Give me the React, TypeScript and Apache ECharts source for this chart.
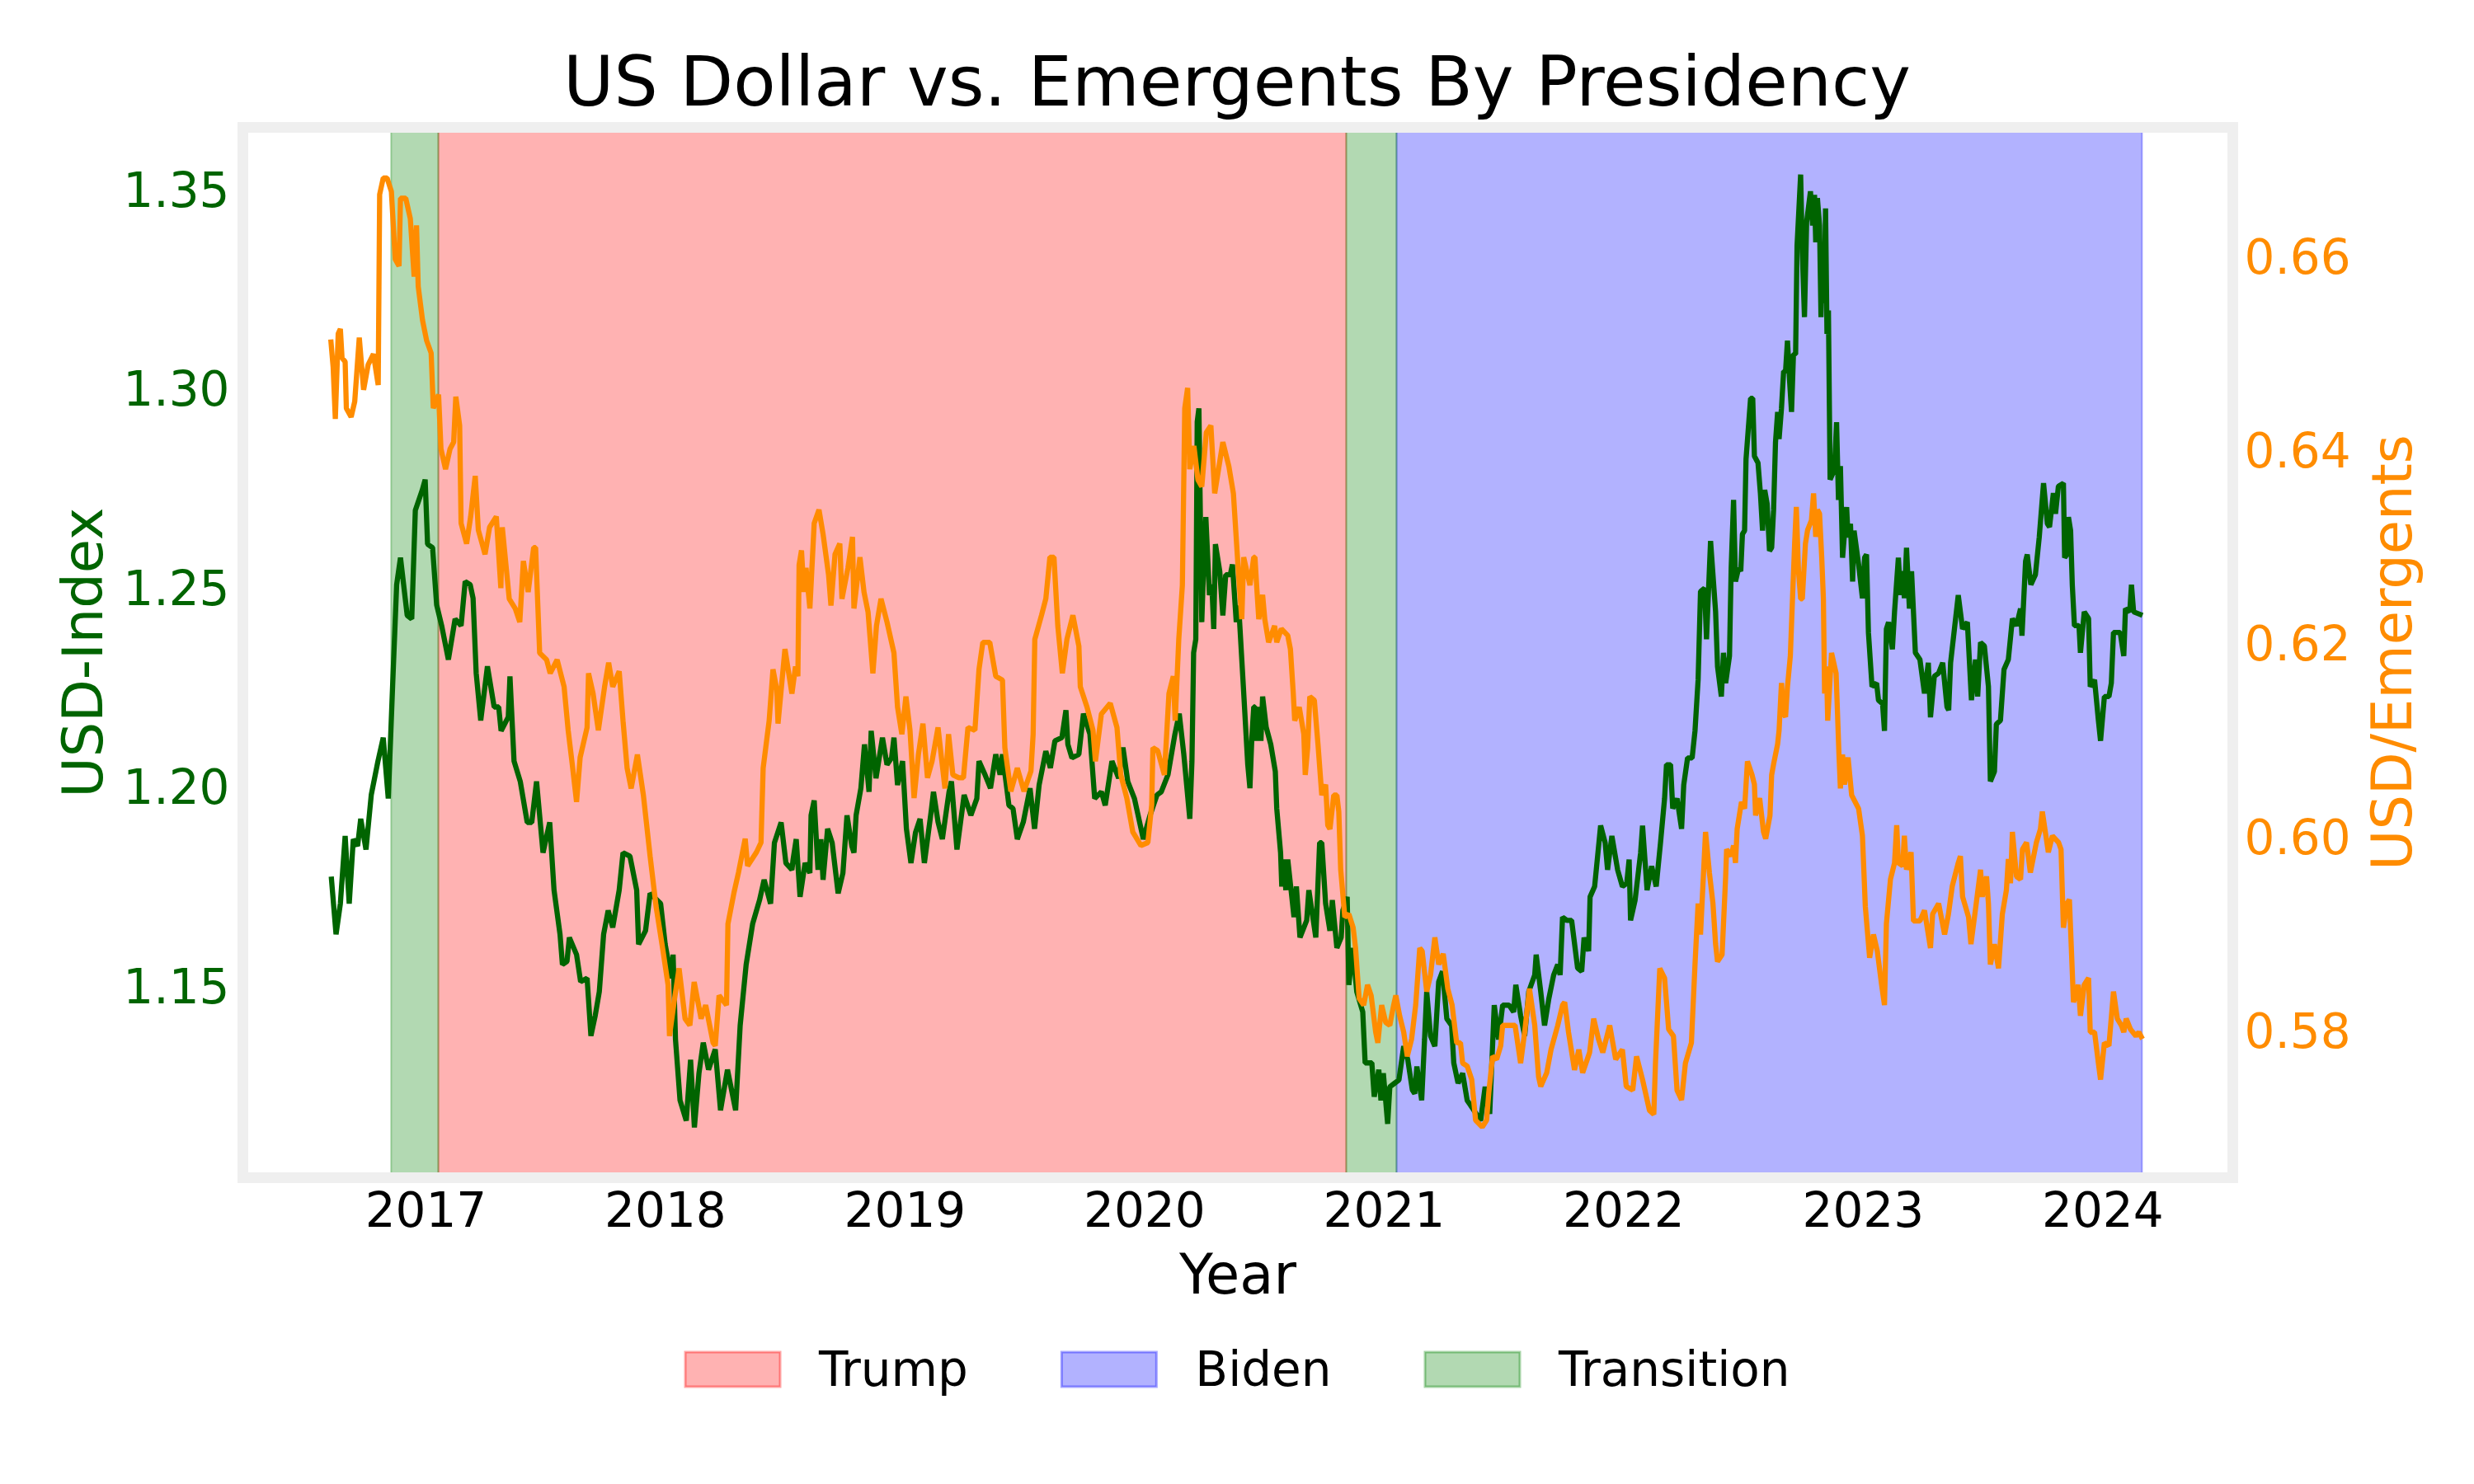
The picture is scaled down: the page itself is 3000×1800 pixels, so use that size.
import { useEffect, useRef } from "react";
import * as echarts from "echarts";

// axis ticks
const yearTicks = [2017, 2018, 2019, 2020, 2021, 2022, 2023, 2024];
const usdTicks = [1.15, 1.2, 1.25, 1.3, 1.35];
const emergentTicks = [0.58, 0.6, 0.62, 0.64, 0.66];

// presidencies (decimal years)
const trumpTerm = [[2017.052, 2020.842]];
const bidenTerm = [[2021.052, 2024.164]];
const transitions = [[2016.855, 2017.052], [2020.842, 2021.052]];

// [decimal year, USD index]
const usdIndex = [
    [2016.605, 1.1776], [2016.625, 1.1631], [2016.643, 1.1708], [2016.663, 1.1878], [2016.680, 1.1708], [2016.697, 1.1870],
    [2016.715, 1.1853], [2016.728, 1.1921], [2016.750, 1.1844], [2016.772, 1.1981], [2016.800, 1.2066], [2016.822, 1.2125],
    [2016.843, 1.1972], [2016.861, 1.2253], [2016.878, 1.2509], [2016.894, 1.2577], [2016.922, 1.2432], [2016.941, 1.2423],
    [2016.956, 1.2696], [2016.985, 1.2747], [2016.997, 1.2773], [2017.007, 1.2611], [2017.028, 1.2602], [2017.045, 1.2458],
    [2017.066, 1.2406], [2017.094, 1.2321], [2017.122, 1.2423], [2017.147, 1.2406], [2017.164, 1.2517], [2017.185, 1.2509],
    [2017.197, 1.2475], [2017.210, 1.2287], [2017.229, 1.2168], [2017.257, 1.2304], [2017.285, 1.2202], [2017.304, 1.2202],
    [2017.314, 1.2142], [2017.344, 1.2177], [2017.351, 1.2279], [2017.368, 1.2066], [2017.394, 1.2015], [2017.423, 1.1912],
    [2017.442, 1.1912], [2017.462, 1.2015], [2017.489, 1.1836], [2017.517, 1.1912], [2017.535, 1.1742], [2017.560, 1.1631],
    [2017.570, 1.1555], [2017.589, 1.1563], [2017.599, 1.1623], [2017.629, 1.1580], [2017.646, 1.1512], [2017.673, 1.1521],
    [2017.689, 1.1376], [2017.707, 1.1427], [2017.724, 1.1487], [2017.742, 1.1631], [2017.761, 1.1691], [2017.780, 1.1648],
    [2017.807, 1.1742], [2017.823, 1.1836], [2017.852, 1.1827], [2017.880, 1.1742], [2017.888, 1.1606], [2017.917, 1.1640],
    [2017.936, 1.1734], [2017.980, 1.1708], [2017.999, 1.1606], [2018.024, 1.1521], [2018.032, 1.1580], [2018.042, 1.1367],
    [2018.061, 1.1214], [2018.087, 1.1163], [2018.105, 1.1316], [2018.121, 1.1146], [2018.140, 1.1282], [2018.158, 1.1359],
    [2018.180, 1.1291], [2018.208, 1.1342], [2018.230, 1.1189], [2018.259, 1.1291], [2018.293, 1.1189], [2018.312, 1.1402],
    [2018.337, 1.1555], [2018.364, 1.1657], [2018.393, 1.1717], [2018.412, 1.1768], [2018.439, 1.1708], [2018.455, 1.1861],
    [2018.483, 1.1912], [2018.503, 1.1810], [2018.528, 1.1793], [2018.533, 1.1819], [2018.546, 1.1870], [2018.562, 1.1725],
    [2018.583, 1.1810], [2018.603, 1.1785], [2018.608, 1.1930], [2018.621, 1.1967], [2018.637, 1.1793], [2018.649, 1.1870],
    [2018.658, 1.1768], [2018.677, 1.1896], [2018.696, 1.1861], [2018.721, 1.1734], [2018.741, 1.1785], [2018.758, 1.1930],
    [2018.778, 1.1853], [2018.787, 1.1836], [2018.796, 1.1930], [2018.816, 1.1998], [2018.831, 1.2108], [2018.850, 1.1989],
    [2018.859, 1.2142], [2018.879, 1.2023], [2018.906, 1.2125], [2018.925, 1.2057], [2018.944, 1.2074], [2018.954, 1.2125],
    [2018.969, 1.2006], [2018.990, 1.2066], [2019.006, 1.1896], [2019.025, 1.1810], [2019.044, 1.1887], [2019.063, 1.1921],
    [2019.081, 1.1810], [2019.109, 1.1938], [2019.119, 1.1989], [2019.138, 1.1913], [2019.156, 1.1870], [2019.184, 1.1989],
    [2019.194, 1.2015], [2019.217, 1.1844], [2019.247, 1.1981], [2019.275, 1.1930], [2019.300, 1.1972], [2019.309, 1.2066],
    [2019.334, 1.2032], [2019.357, 1.1998], [2019.379, 1.2083], [2019.397, 1.2032], [2019.407, 1.2083], [2019.434, 1.1955],
    [2019.451, 1.1947], [2019.469, 1.1870], [2019.494, 1.1913], [2019.522, 1.1998], [2019.541, 1.1896], [2019.560, 1.2006],
    [2019.588, 1.2091], [2019.607, 1.2049], [2019.626, 1.2117], [2019.655, 1.2125], [2019.672, 1.2194], [2019.680, 1.2108],
    [2019.697, 1.2074], [2019.726, 1.2083], [2019.745, 1.2185], [2019.772, 1.2134], [2019.792, 1.1972], [2019.820, 1.1989],
    [2019.836, 1.1955], [2019.864, 1.2066], [2019.892, 1.2023], [2019.910, 1.2100], [2019.930, 1.2015], [2019.958, 1.1972],
    [2019.995, 1.1870], [2020.023, 1.1930], [2020.052, 1.1981], [2020.070, 1.1989], [2020.098, 1.2032], [2020.127, 1.2134],
    [2020.145, 1.2185], [2020.164, 1.2083], [2020.189, 1.1921], [2020.198, 1.2066], [2020.205, 1.2338], [2020.214, 1.2372],
    [2020.220, 1.2918], [2020.227, 1.2952], [2020.239, 1.2415], [2020.248, 1.2577], [2020.256, 1.2679], [2020.271, 1.2483],
    [2020.281, 1.2509], [2020.289, 1.2398], [2020.296, 1.2611], [2020.314, 1.2543], [2020.327, 1.2432], [2020.339, 1.2534],
    [2020.358, 1.2534], [2020.367, 1.2560], [2020.383, 1.2415], [2020.393, 1.2457], [2020.411, 1.2270], [2020.431, 1.2057],
    [2020.440, 1.1998], [2020.448, 1.2125], [2020.456, 1.2202], [2020.461, 1.2202], [2020.468, 1.2117], [2020.477, 1.2202],
    [2020.486, 1.2117], [2020.493, 1.2228], [2020.508, 1.2151], [2020.527, 1.2108], [2020.546, 1.2040], [2020.552, 1.1947],
    [2020.568, 1.1836], [2020.573, 1.1751], [2020.581, 1.1819], [2020.590, 1.1742], [2020.598, 1.1819], [2020.624, 1.1674],
    [2020.634, 1.1751], [2020.649, 1.1623], [2020.677, 1.1666], [2020.686, 1.1742], [2020.715, 1.1623], [2020.731, 1.1861],
    [2020.740, 1.1861], [2020.756, 1.1708], [2020.774, 1.1640], [2020.784, 1.1717], [2020.803, 1.1597], [2020.821, 1.1623],
    [2020.828, 1.1691], [2020.846, 1.1725], [2020.853, 1.1504], [2020.869, 1.1597], [2020.886, 1.1487], [2020.911, 1.1436],
    [2020.921, 1.1308], [2020.949, 1.1308], [2020.959, 1.1223], [2020.978, 1.1291], [2020.987, 1.1214], [2020.997, 1.1282],
    [2021.015, 1.1155], [2021.024, 1.1248], [2021.044, 1.1257], [2021.062, 1.1265], [2021.082, 1.1350], [2021.099, 1.1316],
    [2021.118, 1.1240], [2021.128, 1.1231], [2021.137, 1.1299], [2021.157, 1.1214], [2021.169, 1.1367], [2021.178, 1.1487],
    [2021.194, 1.1376], [2021.212, 1.1350], [2021.228, 1.1512], [2021.244, 1.1538], [2021.262, 1.1419], [2021.282, 1.1402],
    [2021.291, 1.1308], [2021.309, 1.1257], [2021.328, 1.1282], [2021.347, 1.1214], [2021.375, 1.1189], [2021.403, 1.1163],
    [2021.422, 1.1248], [2021.441, 1.1180], [2021.460, 1.1453], [2021.478, 1.1367], [2021.495, 1.1453], [2021.522, 1.1453],
    [2021.541, 1.1436], [2021.550, 1.1504], [2021.570, 1.1427], [2021.587, 1.1376], [2021.604, 1.1487], [2021.629, 1.1529],
    [2021.635, 1.1580], [2021.654, 1.1487], [2021.670, 1.1402], [2021.688, 1.1470], [2021.708, 1.1529], [2021.725, 1.1555],
    [2021.735, 1.1529], [2021.745, 1.1674], [2021.763, 1.1666], [2021.783, 1.1666], [2021.808, 1.1546], [2021.825, 1.1538],
    [2021.835, 1.1623], [2021.854, 1.1589], [2021.860, 1.1725], [2021.879, 1.1751], [2021.904, 1.1904], [2021.923, 1.1861],
    [2021.933, 1.1793], [2021.951, 1.1878], [2021.975, 1.1793], [2021.995, 1.1751], [2022.013, 1.1759], [2022.023, 1.1819],
    [2022.029, 1.1666], [2022.048, 1.1717], [2022.071, 1.1836], [2022.079, 1.1904], [2022.098, 1.1742], [2022.117, 1.1802],
    [2022.136, 1.1751], [2022.154, 1.1861], [2022.171, 1.1972], [2022.179, 1.2057], [2022.196, 1.2057], [2022.205, 1.1947],
    [2022.223, 1.1972], [2022.242, 1.1896], [2022.251, 1.2006], [2022.267, 1.2074], [2022.286, 1.2074], [2022.298, 1.2142],
    [2022.311, 1.2270], [2022.321, 1.2492], [2022.338, 1.2500], [2022.346, 1.2372], [2022.363, 1.2619], [2022.384, 1.2441],
    [2022.392, 1.2304], [2022.408, 1.2228], [2022.417, 1.2338], [2022.426, 1.2262], [2022.442, 1.2330], [2022.449, 1.2551],
    [2022.459, 1.2722], [2022.467, 1.2517], [2022.480, 1.2551], [2022.489, 1.2543], [2022.496, 1.2636], [2022.505, 1.2645],
    [2022.511, 1.2824], [2022.530, 1.2977], [2022.539, 1.2977], [2022.546, 1.2832], [2022.561, 1.2815], [2022.571, 1.2739],
    [2022.580, 1.2645], [2022.589, 1.2747], [2022.599, 1.2713], [2022.609, 1.2594], [2022.618, 1.2602], [2022.626, 1.2696],
    [2022.634, 1.2866], [2022.643, 1.2943], [2022.649, 1.2875], [2022.659, 1.2952], [2022.668, 1.3045], [2022.676, 1.3045],
    [2022.684, 1.3122], [2022.693, 1.3020], [2022.701, 1.2943], [2022.709, 1.3088], [2022.718, 1.3088], [2022.724, 1.3360],
    [2022.739, 1.3539], [2022.746, 1.3343], [2022.755, 1.3181], [2022.764, 1.3420], [2022.780, 1.3497], [2022.789, 1.3411],
    [2022.797, 1.3488], [2022.802, 1.3369], [2022.809, 1.3480], [2022.818, 1.3411], [2022.824, 1.3181], [2022.830, 1.3360],
    [2022.837, 1.3216], [2022.843, 1.3454], [2022.849, 1.3139], [2022.855, 1.3198], [2022.862, 1.2773], [2022.880, 1.2798],
    [2022.889, 1.2917], [2022.897, 1.2722], [2022.905, 1.2807], [2022.914, 1.2577], [2022.931, 1.2704], [2022.937, 1.2628],
    [2022.947, 1.2662], [2022.956, 1.2517], [2022.962, 1.2645], [2022.981, 1.2560], [2022.997, 1.2475], [2023.006, 1.2577],
    [2023.014, 1.2585], [2023.022, 1.2389], [2023.037, 1.2253], [2023.056, 1.2262], [2023.064, 1.2219], [2023.081, 1.2210],
    [2023.089, 1.2142], [2023.097, 1.2398], [2023.106, 1.2415], [2023.122, 1.2347], [2023.131, 1.2441], [2023.147, 1.2577],
    [2023.156, 1.2483], [2023.165, 1.2543], [2023.172, 1.2475], [2023.181, 1.2602], [2023.193, 1.2449], [2023.202, 1.2543],
    [2023.218, 1.2338], [2023.237, 1.2321], [2023.256, 1.2236], [2023.272, 1.2313], [2023.281, 1.2176], [2023.297, 1.2279],
    [2023.315, 1.2287], [2023.332, 1.2313], [2023.350, 1.2202], [2023.357, 1.2194], [2023.365, 1.2313], [2023.381, 1.2398],
    [2023.397, 1.2483], [2023.415, 1.2398], [2023.435, 1.2415], [2023.452, 1.2219], [2023.469, 1.2321], [2023.478, 1.2228],
    [2023.490, 1.2364], [2023.506, 1.2355], [2023.523, 1.2253], [2023.531, 1.2015], [2023.548, 1.2040], [2023.556, 1.2159],
    [2023.573, 1.2168], [2023.588, 1.2296], [2023.606, 1.2321], [2023.623, 1.2424], [2023.640, 1.2406], [2023.657, 1.2449],
    [2023.663, 1.2381], [2023.678, 1.2568], [2023.685, 1.2585], [2023.700, 1.2509], [2023.719, 1.2534], [2023.735, 1.2628],
    [2023.753, 1.2764], [2023.769, 1.2662], [2023.778, 1.2654], [2023.794, 1.2739], [2023.803, 1.2687], [2023.815, 1.2756],
    [2023.836, 1.2764], [2023.841, 1.2577], [2023.851, 1.2585], [2023.857, 1.2679], [2023.866, 1.2645], [2023.873, 1.2509],
    [2023.882, 1.2406], [2023.901, 1.2406], [2023.907, 1.2338], [2023.923, 1.2441], [2023.941, 1.2424], [2023.948, 1.2253],
    [2023.966, 1.2270], [2023.982, 1.2168], [2023.991, 1.2117], [2024.007, 1.2228], [2024.026, 1.2228], [2024.036, 1.2262],
    [2024.045, 1.2389], [2024.073, 1.2389], [2024.088, 1.2330], [2024.095, 1.2449], [2024.113, 1.2441], [2024.120, 1.2509],
    [2024.129, 1.2441], [2024.166, 1.2432],
];

// [decimal year, USD / emergents]
const usdEmergents = [
    [2016.603, 0.6515], [2016.613, 0.6486], [2016.622, 0.6433], [2016.634, 0.6521], [2016.643, 0.6526], [2016.650, 0.6496],
    [2016.663, 0.6492], [2016.668, 0.6444], [2016.688, 0.6435], [2016.703, 0.6451], [2016.722, 0.6517], [2016.740, 0.6463],
    [2016.759, 0.6489], [2016.781, 0.6500], [2016.801, 0.6468], [2016.807, 0.6665], [2016.822, 0.6682], [2016.838, 0.6682],
    [2016.856, 0.6668], [2016.872, 0.6598], [2016.888, 0.6591], [2016.894, 0.6661], [2016.916, 0.6661], [2016.935, 0.6640],
    [2016.951, 0.6580], [2016.961, 0.6633], [2016.968, 0.6570], [2016.986, 0.6535], [2017.003, 0.6514], [2017.022, 0.6501],
    [2017.031, 0.6444], [2017.053, 0.6458], [2017.063, 0.6402], [2017.082, 0.6381], [2017.101, 0.6402], [2017.116, 0.6409],
    [2017.125, 0.6456], [2017.141, 0.6426], [2017.147, 0.6325], [2017.170, 0.6304], [2017.187, 0.6332], [2017.206, 0.6374],
    [2017.219, 0.6318], [2017.247, 0.6293], [2017.266, 0.6321], [2017.294, 0.6332], [2017.313, 0.6258], [2017.319, 0.6321],
    [2017.348, 0.6247], [2017.373, 0.6237], [2017.392, 0.6223], [2017.407, 0.6286], [2017.427, 0.6254], [2017.450, 0.6300],
    [2017.458, 0.6300], [2017.475, 0.6191], [2017.504, 0.6184], [2017.519, 0.6170], [2017.548, 0.6184], [2017.577, 0.6156],
    [2017.594, 0.6111], [2017.611, 0.6076], [2017.629, 0.6037], [2017.644, 0.6083], [2017.673, 0.6114], [2017.679, 0.6170],
    [2017.698, 0.6149], [2017.720, 0.6111], [2017.746, 0.6156], [2017.763, 0.6181], [2017.780, 0.6156], [2017.807, 0.6172],
    [2017.823, 0.6121], [2017.840, 0.6072], [2017.857, 0.6051], [2017.883, 0.6086], [2017.908, 0.6044], [2017.936, 0.5981],
    [2017.961, 0.5929], [2017.990, 0.5883], [2018.011, 0.5848], [2018.017, 0.5795], [2018.036, 0.5830], [2018.057, 0.5865],
    [2018.082, 0.5813], [2018.102, 0.5806], [2018.120, 0.5851], [2018.149, 0.5813], [2018.168, 0.5827], [2018.199, 0.5788],
    [2018.208, 0.5785], [2018.224, 0.5837], [2018.255, 0.5827], [2018.261, 0.5911], [2018.286, 0.5943], [2018.305, 0.5964],
    [2018.333, 0.5999], [2018.343, 0.5971], [2018.380, 0.5985], [2018.399, 0.5995], [2018.408, 0.6072], [2018.433, 0.6121],
    [2018.449, 0.6174], [2018.465, 0.6153], [2018.470, 0.6118], [2018.499, 0.6195], [2018.528, 0.6149], [2018.543, 0.6177],
    [2018.553, 0.6167], [2018.558, 0.6282], [2018.568, 0.6297], [2018.578, 0.6254], [2018.587, 0.6279], [2018.603, 0.6237],
    [2018.621, 0.6325], [2018.641, 0.6339], [2018.658, 0.6314], [2018.681, 0.6272], [2018.691, 0.6240], [2018.708, 0.6293],
    [2018.728, 0.6304], [2018.737, 0.6247], [2018.762, 0.6279], [2018.781, 0.6311], [2018.787, 0.6237], [2018.812, 0.6290],
    [2018.829, 0.6254], [2018.846, 0.6233], [2018.866, 0.6170], [2018.881, 0.6219], [2018.900, 0.6247], [2018.925, 0.6223],
    [2018.954, 0.6191], [2018.969, 0.6135], [2018.987, 0.6107], [2019.004, 0.6146], [2019.021, 0.6111], [2019.038, 0.6041],
    [2019.056, 0.6086], [2019.075, 0.6118], [2019.094, 0.6062], [2019.113, 0.6079], [2019.138, 0.6114], [2019.167, 0.6051],
    [2019.182, 0.6107], [2019.200, 0.6065], [2019.225, 0.6062], [2019.244, 0.6062], [2019.263, 0.6114], [2019.292, 0.6111],
    [2019.309, 0.6174], [2019.325, 0.6202], [2019.354, 0.6202], [2019.379, 0.6167], [2019.407, 0.6163], [2019.417, 0.6093],
    [2019.442, 0.6048], [2019.469, 0.6072], [2019.497, 0.6048], [2019.526, 0.6069], [2019.535, 0.6107], [2019.542, 0.6205],
    [2019.570, 0.6230], [2019.588, 0.6247], [2019.605, 0.6290], [2019.622, 0.6290], [2019.638, 0.6219], [2019.657, 0.6170],
    [2019.676, 0.6205], [2019.701, 0.6230], [2019.726, 0.6198], [2019.732, 0.6156], [2019.760, 0.6135], [2019.785, 0.6111],
    [2019.795, 0.6079], [2019.820, 0.6128], [2019.857, 0.6139], [2019.885, 0.6114], [2019.901, 0.6065], [2019.926, 0.6041],
    [2019.951, 0.6006], [2019.985, 0.5992], [2020.014, 0.5995], [2020.030, 0.6034], [2020.035, 0.6093], [2020.055, 0.6090],
    [2020.083, 0.6065], [2020.102, 0.6149], [2020.120, 0.6167], [2020.128, 0.6121], [2020.143, 0.6205], [2020.158, 0.6261],
    [2020.168, 0.6444], [2020.180, 0.6465], [2020.189, 0.6381], [2020.206, 0.6405], [2020.223, 0.6370], [2020.239, 0.6363],
    [2020.258, 0.6419], [2020.277, 0.6426], [2020.293, 0.6356], [2020.311, 0.6384], [2020.327, 0.6409], [2020.352, 0.6384],
    [2020.371, 0.6356], [2020.390, 0.6282], [2020.406, 0.6226], [2020.414, 0.6290], [2020.440, 0.6261], [2020.456, 0.6290],
    [2020.461, 0.6290], [2020.468, 0.6261], [2020.477, 0.6226], [2020.493, 0.6251], [2020.502, 0.6226], [2020.518, 0.6202],
    [2020.543, 0.6219], [2020.552, 0.6202], [2020.571, 0.6216], [2020.598, 0.6209], [2020.609, 0.6195], [2020.621, 0.6149],
    [2020.627, 0.6121], [2020.646, 0.6135], [2020.665, 0.6107], [2020.671, 0.6065], [2020.681, 0.6093], [2020.690, 0.6146],
    [2020.709, 0.6142], [2020.724, 0.6097], [2020.740, 0.6044], [2020.756, 0.6055], [2020.765, 0.6013], [2020.774, 0.6009],
    [2020.790, 0.6044], [2020.803, 0.6044], [2020.811, 0.6027], [2020.819, 0.5967], [2020.836, 0.5918], [2020.853, 0.5921],
    [2020.871, 0.5907], [2020.881, 0.5886], [2020.896, 0.5834], [2020.915, 0.5827], [2020.931, 0.5848], [2020.946, 0.5837],
    [2020.965, 0.5799], [2020.974, 0.5788], [2020.990, 0.5827], [2021.007, 0.5809], [2021.024, 0.5806], [2021.040, 0.5827],
    [2021.049, 0.5837], [2021.065, 0.5816], [2021.082, 0.5799], [2021.097, 0.5774], [2021.115, 0.5792], [2021.132, 0.5827],
    [2021.149, 0.5886], [2021.159, 0.5883], [2021.178, 0.5841], [2021.194, 0.5858], [2021.212, 0.5897], [2021.228, 0.5869],
    [2021.247, 0.5880], [2021.266, 0.5844], [2021.284, 0.5827], [2021.303, 0.5788], [2021.319, 0.5788], [2021.328, 0.5767],
    [2021.347, 0.5764], [2021.366, 0.5750], [2021.382, 0.5708], [2021.410, 0.5701], [2021.428, 0.5708], [2021.437, 0.5736],
    [2021.453, 0.5774], [2021.470, 0.5771], [2021.487, 0.5785], [2021.495, 0.5806], [2021.512, 0.5806], [2021.547, 0.5806],
    [2021.570, 0.5767], [2021.587, 0.5799], [2021.607, 0.5844], [2021.629, 0.5806], [2021.645, 0.5753], [2021.654, 0.5743],
    [2021.679, 0.5757], [2021.697, 0.5781], [2021.725, 0.5806], [2021.745, 0.5827], [2021.754, 0.5830], [2021.770, 0.5799],
    [2021.795, 0.5760], [2021.813, 0.5781], [2021.829, 0.5757], [2021.858, 0.5778], [2021.875, 0.5813], [2021.895, 0.5792],
    [2021.913, 0.5778], [2021.942, 0.5806], [2021.967, 0.5771], [2021.995, 0.5781], [2022.011, 0.5743], [2022.038, 0.5739],
    [2022.054, 0.5774], [2022.079, 0.5750], [2022.108, 0.5718], [2022.126, 0.5714], [2022.133, 0.5767], [2022.151, 0.5865],
    [2022.171, 0.5855], [2022.188, 0.5802], [2022.208, 0.5795], [2022.223, 0.5739], [2022.242, 0.5729], [2022.258, 0.5767],
    [2022.283, 0.5788], [2022.298, 0.5869], [2022.311, 0.5932], [2022.321, 0.5900], [2022.342, 0.6006], [2022.358, 0.5964],
    [2022.373, 0.5932], [2022.384, 0.5890], [2022.392, 0.5872], [2022.411, 0.5879], [2022.417, 0.5911], [2022.426, 0.5960],
    [2022.430, 0.5988], [2022.449, 0.5981], [2022.459, 0.5992], [2022.467, 0.5974], [2022.474, 0.6009], [2022.492, 0.6037],
    [2022.505, 0.6030], [2022.517, 0.6079], [2022.536, 0.6065], [2022.546, 0.6055], [2022.551, 0.6023], [2022.568, 0.6041],
    [2022.584, 0.6006], [2022.593, 0.5999], [2022.611, 0.6023], [2022.618, 0.6065], [2022.626, 0.6076], [2022.643, 0.6097],
    [2022.649, 0.6111], [2022.659, 0.6160], [2022.668, 0.6128], [2022.676, 0.6125], [2022.684, 0.6156], [2022.696, 0.6188],
    [2022.705, 0.6247], [2022.714, 0.6304], [2022.721, 0.6342], [2022.730, 0.6276], [2022.739, 0.6247], [2022.746, 0.6247],
    [2022.759, 0.6304], [2022.768, 0.6318], [2022.784, 0.6328], [2022.793, 0.6356], [2022.802, 0.6311], [2022.809, 0.6339],
    [2022.818, 0.6335], [2022.827, 0.6290], [2022.834, 0.6247], [2022.839, 0.6149], [2022.847, 0.6177], [2022.852, 0.6121],
    [2022.868, 0.6191], [2022.887, 0.6170], [2022.899, 0.6086], [2022.905, 0.6051], [2022.914, 0.6086], [2022.922, 0.6055],
    [2022.937, 0.6083], [2022.952, 0.6044], [2022.981, 0.6030], [2022.997, 0.6002], [2023.009, 0.5929], [2023.027, 0.5876],
    [2023.043, 0.5900], [2023.059, 0.5883], [2023.077, 0.5848], [2023.089, 0.5827], [2023.097, 0.5911], [2023.114, 0.5957],
    [2023.131, 0.5974], [2023.140, 0.6013], [2023.147, 0.5974], [2023.165, 0.5971], [2023.172, 0.6002], [2023.181, 0.5967],
    [2023.200, 0.5985], [2023.210, 0.5914], [2023.237, 0.5914], [2023.256, 0.5925], [2023.281, 0.5886], [2023.290, 0.5921],
    [2023.315, 0.5932], [2023.340, 0.5900], [2023.356, 0.5921], [2023.372, 0.5950], [2023.397, 0.5974], [2023.406, 0.5981],
    [2023.415, 0.5939], [2023.440, 0.5918], [2023.450, 0.5890], [2023.472, 0.5932], [2023.490, 0.5967], [2023.497, 0.5939],
    [2023.515, 0.5960], [2023.523, 0.5932], [2023.531, 0.5869], [2023.548, 0.5890], [2023.565, 0.5865], [2023.581, 0.5921],
    [2023.598, 0.5946], [2023.606, 0.5978], [2023.615, 0.5953], [2023.623, 0.6006], [2023.640, 0.5960], [2023.657, 0.5957],
    [2023.665, 0.5988], [2023.682, 0.5995], [2023.698, 0.5964], [2023.723, 0.5995], [2023.740, 0.6009], [2023.748, 0.6027],
    [2023.773, 0.5985], [2023.790, 0.6002], [2023.816, 0.5995], [2023.826, 0.5988], [2023.836, 0.5907], [2023.851, 0.5932],
    [2023.861, 0.5936], [2023.878, 0.5830], [2023.898, 0.5848], [2023.907, 0.5816], [2023.923, 0.5848], [2023.941, 0.5855],
    [2023.948, 0.5799], [2023.966, 0.5799], [2023.982, 0.5767], [2023.991, 0.5750], [2024.007, 0.5788], [2024.026, 0.5785],
    [2024.045, 0.5841], [2024.061, 0.5813], [2024.078, 0.5806], [2024.088, 0.5799], [2024.098, 0.5813], [2024.116, 0.5802],
    [2024.139, 0.5795], [2024.151, 0.5799], [2024.166, 0.5792],
];

const FONT = "DejaVu Sans";

export default function App() {
    const chartRef = useRef<HTMLDivElement | null>(null);

    useEffect(() => {
        document.body.style.margin = "0";
        if (!chartRef.current) return;

        const chart = echarts.init(chartRef.current, null, { renderer: "svg" });

        const spans = (list: number[][]) => list.map(([a, b]) => [{ xAxis: a }, { xAxis: b }]);
        const region = (name: string, list: number[][], rgb: string) => ({
            name,
            type: "line",
            data: [],
            z: 1,
            color: `rgba(${rgb},0.3)`,
            markArea: {
                silent: true,
                z: 1,
                label: { show: false },
                itemStyle: { color: `rgba(${rgb},0.3)`, borderColor: `rgba(${rgb},0.3)`, borderWidth: 2 },
                data: spans(list),
            },
        });
        const legendItem = (name: string, rgb: string) => ({
            name,
            icon: "rect",
            itemStyle: { color: `rgba(${rgb},0.3)`, borderColor: `rgba(${rgb},0.35)`, borderWidth: 3 },
        });

        const option: any = {
            animation: false,
            backgroundColor: "#ffffff",
            textStyle: { fontFamily: FONT },
            title: {
                text: "US Dollar vs. Emergents By Presidency",
                left: "center",
                top: 52,
                textStyle: { fontFamily: FONT, fontSize: 84, fontWeight: "normal", color: "#000" },
            },
            grid: { left: 294.5, top: 154.5, width: 2413, height: 1274 },
            legend: {
                left: "center",
                top: 1627,
                itemWidth: 115,
                itemHeight: 42,
                itemGap: 112,
                selectedMode: false,
                textStyle: { fontFamily: FONT, fontSize: 58, color: "#000", padding: [0, 0, 0, 42] },
                data: [
                    legendItem("Trump", "255,0,0"),
                    legendItem("Biden", "0,0,255"),
                    legendItem("Transition", "0,128,0"),
                ],
            },
            xAxis: {
                type: "value",
                min: 2016.236,
                max: 2024.543,
                name: "Year",
                nameLocation: "middle",
                nameGap: 84,
                nameTextStyle: { fontFamily: FONT, fontSize: 67, color: "#000" },
                axisLine: { show: false },
                axisTick: { show: false },
                splitLine: { show: false },
                axisLabel: {
                    customValues: yearTicks,
                    formatter: (v: number) => String(v),
                    fontFamily: FONT,
                    fontSize: 58,
                    color: "#000",
                    margin: 10,
                },
            },
            yAxis: [
                {
                    type: "value",
                    position: "left",
                    min: 1.10197,
                    max: 1.36576,
                    name: "USD-Index",
                    nameLocation: "middle",
                    nameRotate: 90,
                    nameGap: 160,
                    nameTextStyle: { fontFamily: FONT, fontSize: 67, color: "#006400" },
                    axisLine: { show: false },
                    axisTick: { show: false },
                    splitLine: { show: false },
                    axisLabel: {
                        customValues: usdTicks,
                        formatter: (v: number) => v.toFixed(2),
                        fontFamily: FONT,
                        fontSize: 58,
                        color: "#006400",
                        margin: 16,
                    },
                },
                {
                    type: "value",
                    position: "right",
                    min: 0.564857,
                    max: 0.67343,
                    name: "USD/Emergents",
                    nameLocation: "middle",
                    nameRotate: 90,
                    nameGap: 160,
                    nameTextStyle: { fontFamily: FONT, fontSize: 67, color: "#ff8c00" },
                    axisLine: { show: false },
                    axisTick: { show: false },
                    splitLine: { show: false },
                    axisLabel: {
                        customValues: emergentTicks,
                        formatter: (v: number) => v.toFixed(2),
                        fontFamily: FONT,
                        fontSize: 58,
                        color: "#ff8c00",
                        margin: 14,
                    },
                },
            ],
            graphic: [
                {
                    type: "rect",
                    silent: true,
                    z: 100,
                    shape: { x: 294.5, y: 154.5, width: 2413, height: 1274 },
                    style: { fill: "none", stroke: "#efefef", lineWidth: 13 },
                },
            ],
            series: [
                region("Trump", trumpTerm, "255,0,0"),
                region("Biden", bidenTerm, "0,0,255"),
                region("Transition", transitions, "0,128,0"),
                {
                    name: "USD-Index",
                    type: "line",
                    yAxisIndex: 0,
                    data: usdIndex,
                    showSymbol: false,
                    symbol: "none",
                    z: 3,
                    color: "#006400",
                    lineStyle: { color: "#006400", width: 6.3 },
                },
                {
                    name: "USD/Emergents",
                    type: "line",
                    yAxisIndex: 1,
                    data: usdEmergents,
                    showSymbol: false,
                    symbol: "none",
                    z: 4,
                    color: "#ff8c00",
                    lineStyle: { color: "#ff8c00", width: 6.3 },
                },
            ],
        };

        chart.setOption(option);

        return () => {
            chart.dispose();
        };
    }, []);

    return <div ref={chartRef} style={{ width: "3000px", height: "1800px" }} />;
}
